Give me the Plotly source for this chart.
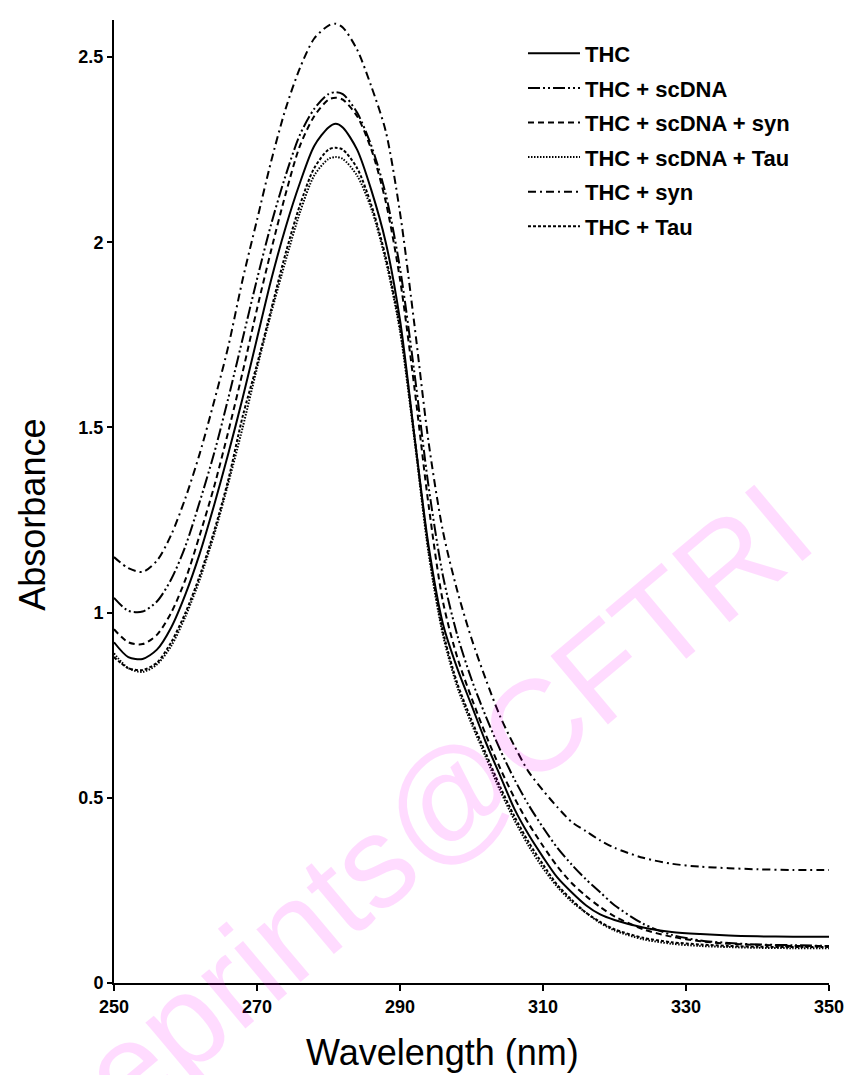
import plotly.graph_objects as go

wavelength = [250, 252, 254, 256, 258, 260, 262, 264, 266, 268, 270, 272, 274, 276, 278,
              280, 281, 282, 284, 286, 288, 290, 292, 294, 296, 298, 300, 302, 304, 306,
              308, 310, 312, 314, 316, 318, 320, 324, 328, 332, 336, 340, 345, 350]

thc = [0.92, 0.88, 0.875, 0.90, 0.96, 1.05, 1.16, 1.29, 1.43, 1.58, 1.74, 1.90, 2.04, 2.16, 2.26,
       2.31, 2.32, 2.31, 2.25, 2.14, 2.00, 1.79, 1.48, 1.18, 0.97, 0.85, 0.75, 0.65, 0.56, 0.47,
       0.40, 0.34, 0.285, 0.245, 0.21, 0.185, 0.17, 0.15, 0.138, 0.132, 0.128, 0.126, 0.125, 0.125]

thc_scdna = [1.04, 1.005, 1.003, 1.03, 1.09, 1.18, 1.30, 1.43, 1.58, 1.74, 1.90, 2.05, 2.18, 2.29, 2.36,
             2.40, 2.405, 2.40, 2.35, 2.26, 2.13, 1.93, 1.65, 1.34, 1.10, 0.94, 0.82, 0.72, 0.63, 0.55,
             0.48, 0.42, 0.365, 0.32, 0.28, 0.245, 0.21, 0.16, 0.13, 0.115, 0.108, 0.104, 0.102, 0.10]

thc_scdna_syn = [0.955, 0.92, 0.915, 0.94, 1.00, 1.09, 1.21, 1.34, 1.49, 1.65, 1.82, 1.98, 2.13, 2.26, 2.34,
                 2.385, 2.39, 2.385, 2.34, 2.25, 2.11, 1.90, 1.61, 1.29, 1.03, 0.88, 0.77, 0.67, 0.58, 0.50,
                 0.43, 0.37, 0.315, 0.27, 0.235, 0.205, 0.18, 0.145, 0.125, 0.113, 0.106, 0.103, 0.10, 0.10]

thc_scdna_tau = [0.89, 0.85, 0.84, 0.86, 0.91, 0.99, 1.09, 1.21, 1.35, 1.50, 1.66, 1.81, 1.95, 2.08, 2.18,
                 2.225, 2.23, 2.225, 2.18, 2.09, 1.95, 1.76, 1.47, 1.16, 0.94, 0.80, 0.70, 0.61, 0.52, 0.44,
                 0.37, 0.31, 0.26, 0.22, 0.19, 0.162, 0.142, 0.118, 0.106, 0.10, 0.097, 0.095, 0.094, 0.094]

thc_syn = [1.15, 1.12, 1.11, 1.14, 1.21, 1.31, 1.43, 1.57, 1.72, 1.90, 2.06, 2.22, 2.36, 2.47, 2.55,
           2.585, 2.59, 2.58, 2.52, 2.42, 2.30, 2.08, 1.78, 1.46, 1.22, 1.06, 0.93, 0.82, 0.72, 0.64,
           0.57, 0.52, 0.475, 0.435, 0.41, 0.385, 0.365, 0.338, 0.322, 0.314, 0.31, 0.307, 0.305, 0.305]

thc_tau = [0.88, 0.85, 0.845, 0.865, 0.92, 1.00, 1.10, 1.22, 1.36, 1.53, 1.67, 1.82, 1.97, 2.10, 2.20,
           2.25, 2.255, 2.25, 2.20, 2.10, 1.96, 1.77, 1.48, 1.17, 0.95, 0.81, 0.71, 0.62, 0.53, 0.45,
           0.38, 0.32, 0.265, 0.225, 0.19, 0.165, 0.145, 0.122, 0.11, 0.104, 0.10, 0.098, 0.097, 0.097]

series = [
    ("THC", thc, "solid"),
    ("THC + scDNA", thc_scdna, "12px,3px,2px,3px,2px,3px"),
    ("THC + scDNA + syn", thc_scdna_syn, "6px,4px"),
    ("THC + scDNA + Tau", thc_scdna_tau, "1.5px,1.5px"),
    ("THC + syn", thc_syn, "8px,4px,2px,4px"),
    ("THC + Tau", thc_tau, "3px,2px"),
]

x_ticks = [250, 270, 290, 310, 330, 350]
y_ticks = [0, 0.5, 1, 1.5, 2, 2.5]
y_tick_labels = ["0", "0.5", "1", "1.5", "2", "2.5"]

x_title = "Wavelength (nm)"
y_title = "Absorbance"
watermark = "eprints@CFTRI"

W, H = 856, 1075
L, R, T, B = 114, 21, 20, 92
PW, PH = W - L - R, H - T - B


def px_to_paper(px, py):
    return (px - L) / PW, (H - B - py) / PH


fig = go.Figure()
for i, (name, ys, dash) in enumerate(series):
    fig.add_trace(go.Scatter(
        x=wavelength, y=ys, name=name, mode="lines",
        line=dict(color="black", dash=dash, width=2, shape="spline", smoothing=0.8),
        legendgroup=f"g{i}",
    ))

font_family = "Liberation Sans, Arial, sans-serif"

wx, wy = px_to_paper(448, 802)
ax_x, ax_y = px_to_paper(31, 515)
tx_x, tx_y = px_to_paper(445, 1052)

fig.update_layout(
    width=W, height=H,
    margin=dict(l=L, r=R, t=T, b=B),
    paper_bgcolor="white", plot_bgcolor="white",
    showlegend=True,
    legend=dict(
        x=0.572, y=0.987, xanchor="left", yanchor="top",
        bgcolor="rgba(0,0,0,0)",
        font=dict(family=font_family, size=22, color="black", weight="bold"),
        tracegroupgap=3, itemwidth=52,
    ),
    annotations=[
        dict(text=watermark, x=wx, y=wy, xref="paper", yref="paper",
             xanchor="center", yanchor="middle", showarrow=False, textangle=-40,
             font=dict(family=font_family, size=130, color="rgba(255,0,255,0.14)")),
        dict(text=y_title, x=ax_x, y=ax_y, xref="paper", yref="paper",
             xanchor="center", yanchor="middle", showarrow=False, textangle=-90,
             font=dict(family=font_family, size=36, color="black")),
        dict(text=x_title, x=tx_x, y=tx_y, xref="paper", yref="paper",
             xanchor="center", yanchor="middle", showarrow=False,
             font=dict(family=font_family, size=36, color="black")),
    ],
)

fig.update_xaxes(
    range=[250, 350], tickvals=x_ticks, ticktext=[str(v) for v in x_ticks],
    showline=True, linecolor="black", linewidth=2, ticks="outside", ticklen=6,
    tickwidth=2, tickcolor="black", showgrid=False, zeroline=False,
    tickfont=dict(family=font_family, size=18, color="black", weight="bold"),
)
fig.update_yaxes(
    range=[0, 2.6], tickvals=y_ticks, ticktext=y_tick_labels,
    showline=True, linecolor="black", linewidth=2, ticks="outside", ticklen=5,
    tickwidth=2, tickcolor="black", showgrid=False, zeroline=False,
    tickfont=dict(family=font_family, size=18, color="black", weight="bold"),
)

fig.write_html("out.html")
